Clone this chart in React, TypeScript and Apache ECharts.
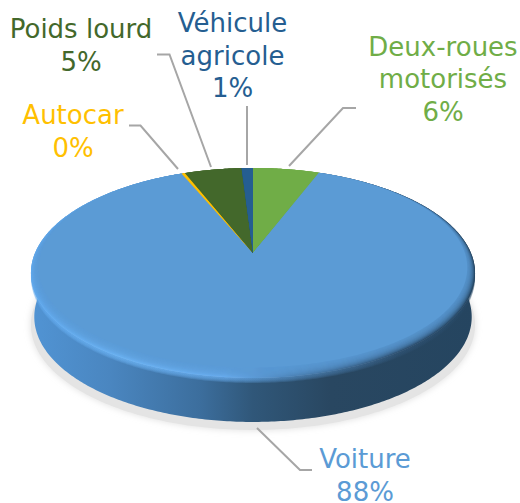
import React, { useEffect, useRef } from "react";
import * as echarts from "echarts";

const categories = ["Deux-roues\nmotorisés", "Voiture", "Autocar", "Poids lourd", "Véhicule\nagricole"];
const shares = [6, 87.7, 0.3, 5, 1];
const sliceColors = ["#70ad47", "#5b9bd5", "#ffc000", "#43682b", "#255e91"];
const labelColors = ["#70ad47", "#5b9bd5", "#ffc000", "#43682b", "#255e91"];
const labelPlaces = [[443, 79], [365, 475.5], [73, 131.5], [81, 45.5], [232.5, 55.5]];
const leaders = [
  [[289, 166], [343, 108], [356, 108]],
  [[257, 428], [300, 470], [312, 470]],
  [[178, 169], [140.5, 125.5], [129, 125.5]],
  [[211, 167], [169.5, 54.5], [157, 54.5]],
  [[247, 165], [247, 106]],
];

const APEX = [253, 253];
const TILT = -0.19;
const SCALE_X = 218;
const SCALE_Y = 101.2;
const DEPTH = 44;
const TOTAL = shares.reduce((a, b) => a + b, 0);
const starts = shares.map((_, i) => shares.slice(0, i).reduce((a, b) => a + b, 0));

const project = (t: number) => {
  const u = Math.sin(t);
  const v = -Math.cos(t);
  const w = 1 + TILT * v;
  return [APEX[0] + (SCALE_X * u) / w, APEX[1] + (SCALE_Y * v) / w];
};
const arc = (i: number) => {
  const a = (starts[i] / TOTAL) * 2 * Math.PI;
  const b = ((starts[i] + shares[i]) / TOTAL) * 2 * Math.PI;
  const n = Math.max(4, Math.ceil((b - a) / 0.012));
  return Array.from({ length: n + 1 }, (_, k) => project(a + ((b - a) * k) / n));
};
const shrink = (p: number[], s: number) => [
  APEX[0] + (p[0] - APEX[0]) * (1 - (1 - s) * 0.7),
  168 + (p[1] - 168) * s,
];

const hGrad = (stops: [number, string][]) => ({
  type: "linear",
  x: 30,
  y: 0,
  x2: 476,
  y2: 0,
  global: true,
  colorStops: stops.map(([x, color]) => ({ offset: (x - 30) / 446, color })),
});
const wallFill = hGrad([
  [30, "#5194d4"], [110, "#4a86c0"], [200, "#3c6e9d"], [253, "#305779"], [330, "#294761"], [476, "#254560"],
]);
const rimFill = hGrad([
  [30, "#60a8ec"], [120, "#6ab1f1"], [225, "#66aaec"], [290, "#4e86bb"], [400, "#2f5273"], [476, "#264764"],
]);

const renderBase = (params: any) => {
  const i = params.dataIndex;
  if (shares[i] !== Math.max(...shares)) return { type: "group", children: [] };
  const top = arc(i);
  const bottom = top.map((p) => [APEX[0] + (p[0] - APEX[0]) * 0.985, p[1] + DEPTH]);
  const full = Array.from({ length: 361 }, (_, k) => project((k / 180) * Math.PI));
  const halo = full.map((p) => [p[0], p[1] + DEPTH + 8]);
  const soft = [5, 4, 3, 2, 1].map((d) => ({
    type: "polygon",
    shape: { points: top.map((p) => [p[0], p[1] + d]) },
    style: { fill: rimFill, opacity: 0.28 },
  }));
  return {
    type: "group",
    children: [
      {
        type: "polygon",
        shape: { points: halo },
        style: { fill: "#e4e4e4", shadowBlur: 7, shadowColor: "#dedede" },
      },
      { type: "polygon", shape: { points: [...top, ...bottom.slice().reverse()] }, style: { fill: wallFill } },
      ...soft,
    ],
  };
};

const renderFace = (params: any) => {
  const i = params.dataIndex;
  const big = shares[i] === Math.max(...shares);
  const edge = arc(i);
  const children: any[] = [
    {
      type: "polygon",
      shape: { points: [APEX, ...edge] },
      style: { fill: big ? rimFill : sliceColors[i] },
    },
  ];
  const steps = [0.995, 0.99, 0.985, 0.98, 0.975, 0.97, 0.965, 0.96, 0.955, 0.95];
  steps.forEach((s, k) => {
    children.push({
      type: "polygon",
      shape: { points: [APEX, ...edge.map((p) => shrink(p, s))] },
      style: { fill: sliceColors[i], opacity: k === steps.length - 1 ? 1 : 0.22 },
    });
  });
  return { type: "group", children };
};

export default function App() {
  const ref = useRef<HTMLDivElement>(null);
  useEffect(() => {
    document.body.style.margin = "0";
    const chart = echarts.init(ref.current!, undefined, { renderer: "svg" });
    const data = shares.map((v, i) => ({ value: v, name: categories[i] }));
    chart.setOption({
      animation: false,
      backgroundColor: "#ffffff",
      series: [
        { type: "custom", coordinateSystem: "none", z: 1, silent: true, data, renderItem: renderBase },
        { type: "custom", coordinateSystem: "none", z: 2, silent: true, data, renderItem: renderFace },
      ],
      graphic: [
        ...leaders.map((pts) => ({
          type: "polyline",
          z: 5,
          shape: { points: pts },
          style: { stroke: "#a6a6a6", lineWidth: 2, fill: "none" },
        })),
        ...categories.map((c, i) => ({
          type: "text",
          z: 6,
          x: labelPlaces[i][0],
          y: labelPlaces[i][1],
          style: {
            text: `${c}\n${Math.round((shares[i] / TOTAL) * 100)}%`,
            fill: labelColors[i],
            font: '400 26px "DejaVu Sans"',
            lineHeight: 32.5,
            align: "center",
            verticalAlign: "middle",
          },
        })),
      ],
    });
    return () => chart.dispose();
  }, []);
  return <div ref={ref} style={{ width: 520, height: 503, position: "fixed", left: 0, top: 0 }} />;
}
